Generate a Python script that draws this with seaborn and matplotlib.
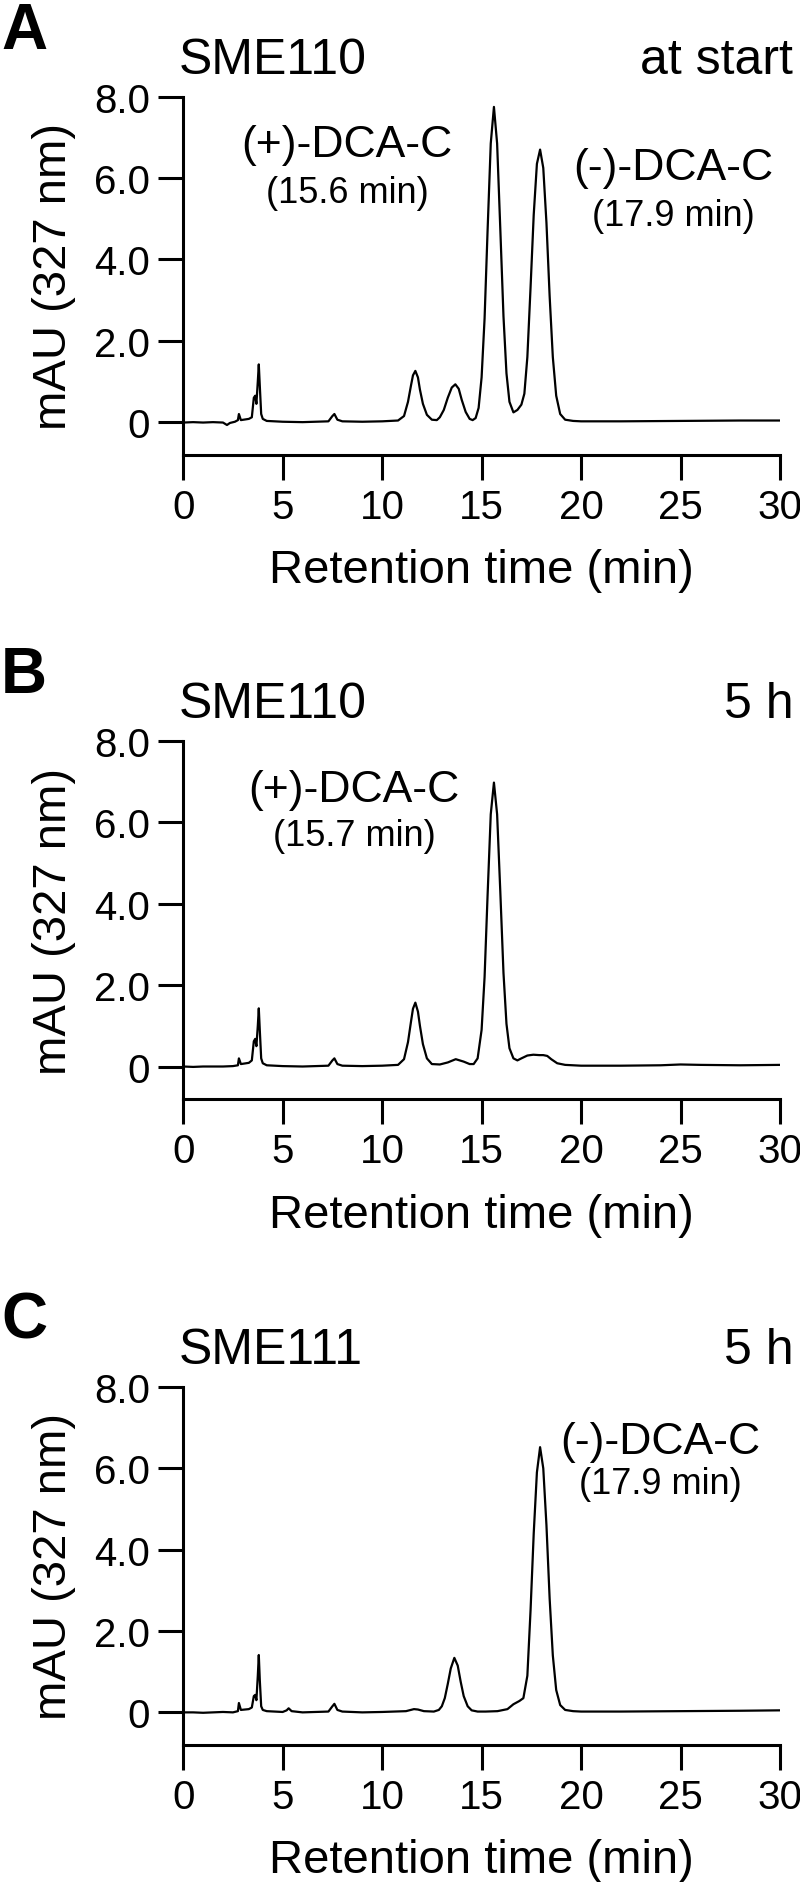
import numpy as np
import pandas as pd
import seaborn as sns
import matplotlib
matplotlib.use("Agg")
import matplotlib.pyplot as plt

# retention time (min) / absorbance (mAU)
time_a = [0, 0.5, 1.0, 1.5, 2.0, 2.2, 2.35, 2.6, 2.75, 2.8, 2.9, 3.3, 3.45, 3.55, 3.62, 3.68, 3.75, 3.8, 3.85, 3.92,
          4.0, 4.2, 5, 6, 7.3, 7.5, 7.6, 7.75, 8.0, 9, 10, 10.8, 11.1, 11.3, 11.45, 11.55, 11.67, 11.8, 11.9, 12.05,
          12.25, 12.5, 12.75, 12.9, 13.1, 13.3, 13.5, 13.68, 13.85, 14.0, 14.2, 14.4, 14.55, 14.7, 14.85, 15.0, 15.15,
          15.3, 15.46, 15.62, 15.78, 15.94, 16.1, 16.25, 16.4, 16.6, 16.8, 17.0, 17.15, 17.3, 17.46, 17.62, 17.78,
          17.94, 18.1, 18.26, 18.42, 18.58, 18.75, 18.95, 19.2, 19.6, 20, 22, 25, 28, 30]
mau_a = [-0.01, 0.0, -0.01, 0.0, -0.01, -0.07, -0.02, 0.01, 0.05, 0.2, 0.05, 0.08, 0.12, 0.6, 0.65, 0.45, 1.0, 1.42, 0.9, 0.2,
         0.08, 0.03, 0.01, 0.0, 0.02, 0.15, 0.2, 0.06, 0.02, 0.01, 0.02, 0.04, 0.15, 0.5, 0.9, 1.15, 1.26, 1.1, 0.8, 0.45,
         0.18, 0.06, 0.05, 0.12, 0.3, 0.6, 0.85, 0.93, 0.82, 0.55, 0.25, 0.08, 0.05, 0.1, 0.35, 1.1, 2.55,
         4.7, 6.85, 7.75, 6.85, 4.75, 2.6, 1.2, 0.5, 0.24, 0.3, 0.43, 0.7, 1.6, 3.3, 5.1, 6.35,
         6.7, 6.25, 4.9, 3.1, 1.6, 0.65, 0.2, 0.06, 0.03, 0.02, 0.02, 0.03, 0.04, 0.04]

time_b = [0, 0.5, 1.0, 1.5, 2.0, 2.5, 2.75, 2.8, 2.9, 3.3, 3.45, 3.55, 3.62, 3.68, 3.75, 3.8, 3.85, 3.92, 4.0, 4.2,
          5, 6, 7.3, 7.5, 7.6, 7.75, 8.0, 9, 10, 10.8, 11.1, 11.3, 11.45, 11.55, 11.67, 11.8, 11.9, 12.05, 12.25,
          12.5, 12.9, 13.3, 13.7, 14.1, 14.4, 14.6, 14.8, 15.0, 15.15, 15.3, 15.46, 15.62, 15.78, 15.94, 16.1, 16.25,
          16.4, 16.6, 16.8, 17.0, 17.3, 17.6, 17.9, 18.1, 18.3, 18.5, 18.8, 19.2, 20, 22, 24, 25, 26, 28, 30]
mau_b = [0.0, -0.01, 0.0, 0.0, 0.0, 0.01, 0.03, 0.2, 0.06, 0.09, 0.15, 0.62, 0.68, 0.5, 1.0, 1.43, 0.9, 0.2, 0.08, 0.03,
         0.01, 0.0, 0.02, 0.15, 0.2, 0.06, 0.02, 0.01, 0.02, 0.04, 0.18, 0.6, 1.1, 1.42, 1.57, 1.35, 1.0, 0.55, 0.2,
         0.06, 0.05, 0.1, 0.18, 0.12, 0.06, 0.06, 0.2, 0.9, 2.2, 4.2, 6.2, 6.98, 6.2, 4.3, 2.3, 1.05,
         0.45, 0.2, 0.15, 0.2, 0.27, 0.29, 0.28, 0.28, 0.26, 0.18, 0.08, 0.04, 0.02, 0.02, 0.03, 0.05, 0.04, 0.03, 0.04]

time_c = [0, 0.5, 1, 1.5, 2, 2.5, 2.75, 2.8, 2.9, 3.3, 3.45, 3.55, 3.62, 3.68, 3.75, 3.8, 3.85, 3.92, 4.0, 4.2,
          5.0, 5.2, 5.3, 5.45, 6, 7.3, 7.5, 7.6, 7.75, 8, 9, 10, 11.2, 11.6, 11.8, 12.1, 12.6, 12.85, 13.0, 13.15,
          13.3, 13.45, 13.63, 13.8, 13.95, 14.1, 14.3, 14.5, 14.8, 15.2, 15.8, 16.3, 16.6, 16.9, 17.1, 17.3, 17.46,
          17.62, 17.78, 17.94, 18.1, 18.26, 18.42, 18.58, 18.75, 18.95, 19.2, 19.6, 20, 22, 25, 28, 30]
mau_c = [0.0, 0.0, -0.01, 0.0, 0.01, 0.0, 0.03, 0.23, 0.06, 0.08, 0.12, 0.4, 0.43, 0.3, 0.9, 1.41, 0.8, 0.15, 0.06, 0.03,
         0.01, 0.05, 0.1, 0.03, 0.0, 0.02, 0.15, 0.21, 0.06, 0.02, 0.0, 0.01, 0.03, 0.08, 0.07, 0.03, 0.02, 0.06, 0.15, 0.35,
         0.7, 1.08, 1.34, 1.15, 0.75, 0.4, 0.15, 0.05, 0.02, 0.02, 0.03, 0.08, 0.2, 0.28, 0.35, 0.9, 2.5,
         4.4, 5.9, 6.52, 6.0, 4.6, 2.8, 1.4, 0.55, 0.18, 0.06, 0.03, 0.02, 0.02, 0.03, 0.04, 0.05]

panel_letters = ["A", "B", "C"]
strains = ["SME110", "SME110", "SME111"]
timepoints = ["at start", "5 h", "5 h"]
xticks = [0, 5, 10, 15, 20, 25, 30]
yticks = [0, 2, 4, 6, 8]
ytick_labels = ["0", "2.0", "4.0", "6.0", "8.0"]

# peak annotations: (panel, name, retention label, x, y of name, y of rt label)
annotations = [
    (0, "(+)-DCA-C", "(15.6 min)", 8.25, 6.82, 5.64),
    (0, "(-)-DCA-C", "(17.9 min)", 24.65, 6.26, 5.08),
    (1, "(+)-DCA-C", "(15.7 min)", 8.6, 6.80, 5.68),
    (2, "(-)-DCA-C", "(17.9 min)", 24.0, 6.67, 5.62),
]

sns.set_style("ticks")
plt.rcParams["font.family"] = ["Liberation Sans", "DejaVu Sans"]
for key in ["text.color", "axes.labelcolor", "xtick.color", "ytick.color", "axes.edgecolor"]:
    plt.rcParams[key] = "black"

traces = [pd.DataFrame({"time": t, "mau": m}) for t, m in
          [(time_a, mau_a), (time_b, mau_b), (time_c, mau_c)]]

fig = plt.figure(figsize=(8, 18.83), dpi=100)
bottoms = [0.758, 0.4158, 0.0728]
axes = [fig.add_axes([0.229, b, 0.746, 0.1901]) for b in bottoms]

for i, ax in enumerate(axes):
    sns.lineplot(data=traces[i], x="time", y="mau", color="black", linewidth=1.6,
                 estimator=None, sort=False, ax=ax)
    ax.set_xlim(0, 30)
    ax.set_ylim(-0.8, 8.0)
    ax.set_xticks(xticks)
    ax.set_yticks(yticks)
    ax.set_yticklabels(ytick_labels)
    sns.despine(ax=ax)
    for side in ["left", "bottom"]:
        ax.spines[side].set_linewidth(2.2)
    ax.tick_params(axis="both", direction="out", length=18, width=2.2, labelsize=29, pad=6)
    ax.set_xlabel("Retention time (min)", fontsize=34, labelpad=16)
    ax.set_ylabel("mAU (327 nm)", fontsize=34, labelpad=13)

    ax.text(-0.008, 1.066, strains[i], transform=ax.transAxes, fontsize=36,
            ha="left", va="baseline")
    ax.text(1.022, 1.066, timepoints[i], transform=ax.transAxes, fontsize=36,
            ha="right", va="baseline")
    ax.text(-0.305, 1.137, panel_letters[i], transform=ax.transAxes, fontsize=46,
            fontweight="bold", ha="left", va="baseline")

for panel, name, rt, x, y1, y2 in annotations:
    axes[panel].text(x, y1, name, fontsize=32, ha="center", va="center")
    axes[panel].text(x, y2, rt, fontsize=26, ha="center", va="center")

fig.savefig("out.png", dpi=100)
